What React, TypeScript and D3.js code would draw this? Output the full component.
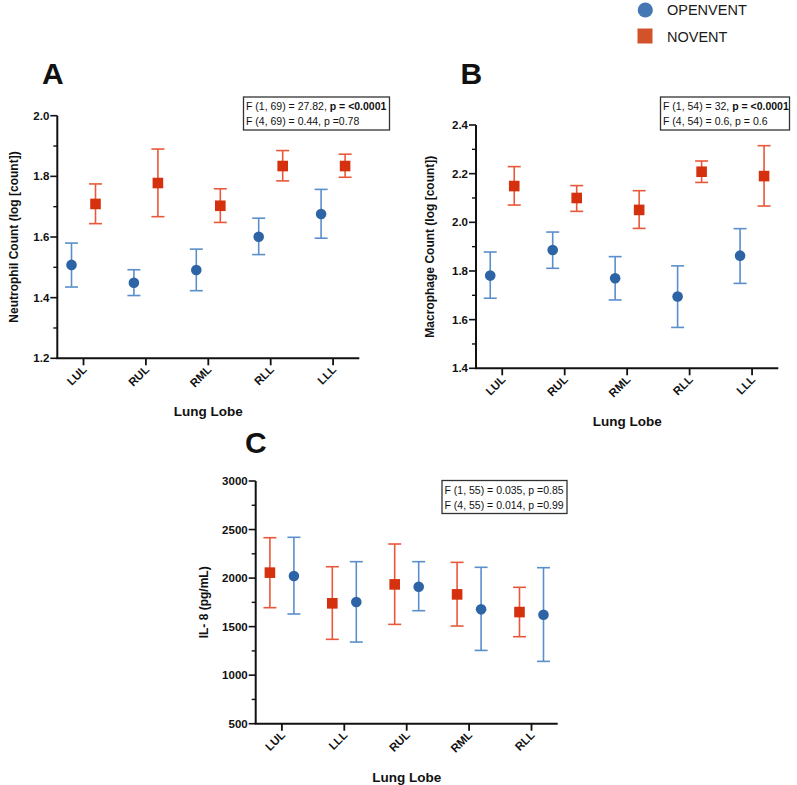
import React from "react";
import * as d3 from "d3";

// ---------- DATA ----------
const lobesAB = ["LUL", "RUL", "RML", "RLL", "LLL"];
const lobesC = ["LUL", "LLL", "RUL", "RML", "RLL"];

// Panel A: Neutrophil count (log)
const neutroOpenMean = [1.508, 1.449, 1.491, 1.601, 1.676];
const neutroOpenLow = [1.435, 1.407, 1.423, 1.542, 1.596];
const neutroOpenHigh = [1.580, 1.492, 1.560, 1.662, 1.757];
const neutroNoMean = [1.709, 1.778, 1.703, 1.834, 1.834];
const neutroNoLow = [1.644, 1.667, 1.648, 1.785, 1.797];
const neutroNoHigh = [1.775, 1.890, 1.759, 1.885, 1.873];

// Panel B: Macrophage count (log)
const macroOpenMean = [1.781, 1.886, 1.770, 1.695, 1.863];
const macroOpenLow = [1.688, 1.811, 1.681, 1.568, 1.749];
const macroOpenHigh = [1.878, 1.960, 1.859, 1.821, 1.974];
const macroNoMean = [2.149, 2.100, 2.051, 2.208, 2.190];
const macroNoLow = [2.071, 2.045, 1.975, 2.164, 2.067];
const macroNoHigh = [2.229, 2.151, 2.130, 2.252, 2.315];

// Panel C: IL-8 (pg/mL)
const il8NoMean = [2056, 1740, 1935, 1832, 1650];
const il8NoLow = [1695, 1369, 1523, 1506, 1396];
const il8NoHigh = [2416, 2117, 2351, 2162, 1905];
const il8OpenMean = [2021, 1753, 1911, 1678, 1623];
const il8OpenLow = [1630, 1341, 1664, 1255, 1142];
const il8OpenHigh = [2420, 2169, 2169, 2111, 2107];

const ticksA = [1.2, 1.4, 1.6, 1.8, 2.0];
const ticksB = [1.4, 1.6, 1.8, 2.0, 2.2, 2.4];
const ticksC = [500, 1000, 1500, 2000, 2500, 3000];

const seriesNames = ["OPENVENT", "NOVENT"];

// ---------- STYLE ----------
const FONT = "'Liberation Sans', Arial, Helvetica, sans-serif";
const BLUE = "#2c64a5";
const BLUE_BAR = "#5a8fcb";
const RED = "#d5310f";
const RED_BAR = "#e8583a";

type Series = { mean: number[]; low: number[]; high: number[]; kind: "open" | "no"; dx: number };

type PanelProps = {
  left: number; right: number; top: number; bottom: number;
  domain: [number, number];
  ticks: number[];
  minorStep: number;
  fmt: (v: number) => string;
  cats: string[];
  series: Series[];
  yLabel: string;
  letter: string; letterX: number; letterY: number;
  yLabelX: number;
  box: { x: number; y: number; w: number; h: number; l1a: string; l1b: string; l2: string };
};

function Panel(p: PanelProps) {
  const x = d3.scalePoint<string>().domain(p.cats).range([p.left, p.right]).padding(0.42);
  const y = d3.scaleLinear().domain(p.domain).range([p.bottom, p.top]);
  const minor = d3.range(p.domain[0], p.domain[1] + 1e-9, p.minorStep).filter(
    (v) => !p.ticks.some((t) => Math.abs(t - v) < 1e-6)
  );
  const cap = 6.5;
  return (
    <g>
      <text x={p.letterX} y={p.letterY} fontFamily={FONT} fontWeight="bold" fontSize={30} fill="#111">
        {p.letter}
      </text>
      {/* y axis */}
      <line x1={p.left} x2={p.left} y1={p.top} y2={p.bottom} stroke="#111" strokeWidth={2} />
      {p.ticks.map((t) => (
        <g key={"t" + t}>
          <line x1={p.left - 7} x2={p.left} y1={y(t)} y2={y(t)} stroke="#111" strokeWidth={1.6} />
          <text x={p.left - 8} y={y(t)} dy="0.35em" textAnchor="end" fontFamily={FONT}
            fontWeight="bold" fontSize={11.5} fill="#111">{p.fmt(t)}</text>
        </g>
      ))}
      {minor.map((t) => (
        <line key={"m" + t} x1={p.left - 4} x2={p.left} y1={y(t)} y2={y(t)} stroke="#111" strokeWidth={1.4} />
      ))}
      {/* x axis */}
      <line x1={p.left - 1} x2={p.right} y1={p.bottom} y2={p.bottom} stroke="#111" strokeWidth={2} />
      {p.cats.map((c) => (
        <g key={"c" + c}>
          <line x1={x(c)!} x2={x(c)!} y1={p.bottom} y2={p.bottom + 7} stroke="#111" strokeWidth={1.8} />
          <text transform={`translate(${x(c)! + 4},${p.bottom + 12}) rotate(-45)`} textAnchor="end"
            fontFamily={FONT} fontWeight="bold" fontSize={11.5} fill="#111">{c}</text>
        </g>
      ))}
      <text x={(p.left + p.right) / 2} y={p.bottom + 58} textAnchor="middle" fontFamily={FONT}
        fontWeight="bold" fontSize={13.5} fill="#111">Lung Lobe</text>
      <text transform={`translate(${p.yLabelX},${(p.top + p.bottom) / 2}) rotate(-90)`} textAnchor="middle"
        fontFamily={FONT} fontWeight="bold" fontSize={12} fill="#111">{p.yLabel}</text>
      {/* series */}
      {p.series.map((s, si) => (
        <g key={"s" + si}>
          {p.cats.map((c, i) => {
            const cx = x(c)! + s.dx;
            const barCol = s.kind === "open" ? BLUE_BAR : RED_BAR;
            return (
              <g key={c}>
                <line x1={cx} x2={cx} y1={y(s.low[i])} y2={y(s.high[i])} stroke={barCol} strokeWidth={1.6} />
                <line x1={cx - cap} x2={cx + cap} y1={y(s.low[i])} y2={y(s.low[i])} stroke={barCol} strokeWidth={1.6} />
                <line x1={cx - cap} x2={cx + cap} y1={y(s.high[i])} y2={y(s.high[i])} stroke={barCol} strokeWidth={1.6} />
                {s.kind === "open" ? (
                  <circle cx={cx} cy={y(s.mean[i])} r={5.3} fill={BLUE} />
                ) : (
                  <rect x={cx - 5.3} y={y(s.mean[i]) - 5.3} width={10.6} height={10.6} fill={RED} />
                )}
              </g>
            );
          })}
        </g>
      ))}
      {/* stats box */}
      <rect x={p.box.x} y={p.box.y} width={p.box.w} height={p.box.h} fill="white" stroke="#333" strokeWidth={1.3} />
      <text x={p.box.x + 2.5} y={p.box.y + 13} fontFamily={FONT} fontSize={10.5} fill="#111">
        {p.box.l1a}<tspan fontWeight="bold">{p.box.l1b}</tspan>
      </text>
      <text x={p.box.x + 2.5} y={p.box.y + 28} fontFamily={FONT} fontSize={10.5} fill="#111">{p.box.l2}</text>
    </g>
  );
}

export default function App() {
  const f1 = (v: number) => v.toFixed(1);
  const f0 = (v: number) => String(v);
  return (
    <svg width={797} height={785} style={{ position: "absolute", left: 0, top: 0, background: "white" }}>
      <rect width={797} height={785} fill="white" />
      {/* legend */}
      <circle cx={645.3} cy={10} r={7.6} fill="#4577b5" />
      <text x={667} y={15.3} fontFamily={FONT} fontSize={14.5} fill="#1a1a1a">{seriesNames[0]}</text>
      <rect x={637.5} y={28.5} width={15} height={15} fill="#d4522a" />
      <text x={667} y={41.5} fontFamily={FONT} fontSize={14.5} fill="#1a1a1a">{seriesNames[1]}</text>

      <Panel left={57.3} right={359.3} top={115.7} bottom={358.3} domain={[1.2, 2.0]} ticks={ticksA}
        minorStep={0.1} fmt={f1} cats={lobesAB}
        series={[
          { mean: neutroOpenMean, low: neutroOpenLow, high: neutroOpenHigh, kind: "open", dx: -12 },
          { mean: neutroNoMean, low: neutroNoLow, high: neutroNoHigh, kind: "no", dx: 12 },
        ]}
        yLabel="Neutrophil Count (log [count])" letter="A" letterX={42} letterY={83.5} yLabelX={18}
        box={{ x: 243.5, y: 97, w: 146, h: 33, l1a: "F (1, 69) = 27.82, ", l1b: "p = <0.0001", l2: "F (4, 69) = 0.44, p =0.78" }}
      />
      <Panel left={476} right={778.3} top={125} bottom={368.3} domain={[1.4, 2.4]} ticks={ticksB}
        minorStep={0.1} fmt={f1} cats={lobesAB}
        series={[
          { mean: macroOpenMean, low: macroOpenLow, high: macroOpenHigh, kind: "open", dx: -12 },
          { mean: macroNoMean, low: macroNoLow, high: macroNoHigh, kind: "no", dx: 12 },
        ]}
        yLabel="Macrophage Count (log [count])" letter="B" letterX={460.5} letterY={83.5} yLabelX={433.5}
        box={{ x: 660.5, y: 97, w: 129, h: 33, l1a: "F (1, 54) = 32, ", l1b: "p = <0.0001", l2: "F (4, 54) = 0.6, p = 0.6" }}
      />
      <Panel left={255.7} right={557.7} top={481} bottom={723.7} domain={[500, 3000]} ticks={ticksC}
        minorStep={250} fmt={f0} cats={lobesC}
        series={[
          { mean: il8NoMean, low: il8NoLow, high: il8NoHigh, kind: "no", dx: -12 },
          { mean: il8OpenMean, low: il8OpenLow, high: il8OpenHigh, kind: "open", dx: 12 },
        ]}
        yLabel="IL- 8 (pg/mL)" letter="C" letterX={245} letterY={453} yLabelX={208}
        box={{ x: 442, y: 480.5, w: 125, h: 33, l1a: "F (1, 55) = 0.035, p =0.85", l1b: "", l2: "F (4, 55) = 0.014, p =0.99" }}
      />
    </svg>
  );
}
